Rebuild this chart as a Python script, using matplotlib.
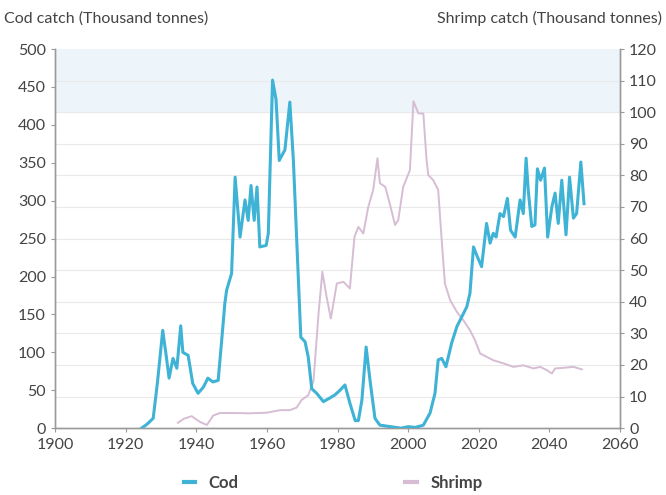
import numpy as np
import matplotlib
matplotlib.use('Agg')
from matplotlib import pyplot as plt

# values
cod_years = [1924.5, 1926, 1927.8, 1929, 1930.5, 1931.5, 1932.3, 1933.4, 1934.5, 1935.6,
             1936.2, 1937.7, 1939, 1940.5, 1942, 1943.3, 1944.7, 1946.2, 1947.2, 1948.1,
             1948.6, 1950, 1951, 1952.4, 1953.8, 1954.7, 1955.5, 1956.4, 1957.2, 1958,
             1959.8, 1960.4, 1961.6, 1962.6, 1963.5, 1965.1, 1966.5, 1967.5, 1969.6, 1970.8,
             1971.7, 1972.7, 1974.1, 1976, 1977.9, 1979.3, 1980.7, 1982.1, 1983.5, 1985,
             1985.9, 1986.9, 1988.1, 1989.2, 1990.6, 1992, 1995, 1998, 2000, 2002,
             2004.3, 2006.2, 2007.6, 2008.5, 2009.5, 2010.7, 2012.3, 2013.8, 2015.2, 2016.6,
             2017.5, 2018.5, 2019.6, 2020.8, 2022.2, 2023.2, 2024.1, 2024.9, 2026, 2027,
             2028.1, 2029, 2030.3, 2031.7, 2032.6, 2033.4, 2034, 2035, 2035.9, 2036.6,
             2037.5, 2038.6, 2039.5, 2040.7, 2041.6, 2042.5, 2043.5, 2044.7, 2045.7, 2046.8,
             2047.7, 2048.9, 2049.8]
cod_catch = [0, 5, 13, 60, 129, 95, 66, 92, 79, 135,
             100, 96, 59, 46, 54, 66, 61, 63, 116, 165,
             182, 204, 331, 252, 301, 274, 320, 274, 318, 239,
             241, 257, 459, 433, 353, 367, 430, 353, 120, 114,
             94, 52, 46, 35, 40, 44, 50, 57, 33, 10,
             10, 37, 107, 63, 13, 4, 2, 0, 2, 1,
             4, 20, 46, 90, 92, 81, 112, 134, 147, 160,
             178, 239, 226, 213, 270, 244, 257, 252, 283, 279,
             303, 261, 252, 301, 283, 356, 314, 266, 268, 342,
             327, 343, 252, 292, 310, 270, 327, 255, 331, 277,
             283, 351, 296]

shrimp_years = [1934.8, 1936.5, 1938.7, 1941, 1943, 1944.8, 1946.7, 1951, 1955, 1960,
                1963.7, 1966.5, 1968.4, 1969.8, 1971.7, 1973.2, 1974.6, 1975.7, 1976.9, 1978.1,
                1979.8, 1981.7, 1983.5, 1984.8, 1985.9, 1987.3, 1988.7, 1990.1, 1991.3, 1992,
                1993.5, 1994.9, 1996.3, 1997.2, 1998.6, 2000.5, 2001.5, 2002.9, 2004.3, 2005.2,
                2005.7, 2007.1, 2008.5, 2009.5, 2010.4, 2011.9, 2013.8, 2015.6, 2017.5, 2018.9,
                2020.4, 2022.2, 2024.1, 2027, 2029.8, 2032.6, 2035.5, 2037.4, 2039.2, 2040.7,
                2041.6, 2044, 2046.8, 2049.2]
shrimp_catch = [1.7, 3, 3.8, 2, 1, 4, 4.8, 4.8, 4.7, 4.9,
                5.7, 5.7, 6.5, 8.9, 10.4, 15, 36, 49.5, 41.6, 34.7,
                45.8, 46.3, 44.2, 60.6, 63.7, 61.6, 70, 75.4, 85.4, 77.5,
                76.4, 70.6, 64.3, 65.9, 76.4, 81.7, 103.5, 99.6, 99.6, 85,
                80.1, 78.5, 75.4, 59.5, 45.8, 40.5, 36.8, 34.2, 31, 27.9,
                23.6, 22.6, 21.5, 20.5, 19.4, 19.9, 18.9, 19.4, 18.4, 17.3,
                18.9, 19.1, 19.4, 18.6]

x_ticks = list(range(1900, 2061, 20))
cod_ticks = list(range(0, 501, 50))
shrimp_ticks = list(range(0, 121, 10))

COD = '#3fb3d5'
SHRIMP = '#d6bdd4'
GREY = '#9a9a9a'
TXT = '#444444'

plt.rcParams['font.family'] = ['Lato', 'DejaVu Sans']

fig = plt.figure(figsize=(6.66, 4.95), dpi=100)
ax = fig.add_axes([0.0826, 0.135, 0.8484, 0.766])
ax2 = ax.twinx()
# shrimp axis behind the cod axis
ax2.set_zorder(ax.get_zorder() - 1)
ax.patch.set_visible(False)

ax2.axhspan(100, 120, color='#edf5fb', lw=0, zorder=0)
for t in shrimp_ticks[1:-1]:
    ax2.axhline(t, color='#e9e9e9', lw=0.8, zorder=0.5)

ax2.plot(shrimp_years, shrimp_catch, color=SHRIMP, lw=1.4, zorder=2)
ax.plot(cod_years, cod_catch, color=COD, lw=2.2, zorder=3)

ax.set_xlim(1900, 2060)
ax.set_ylim(0, 500)
ax2.set_ylim(0, 120)
ax.set_xticks(x_ticks)
ax.set_yticks(cod_ticks)
ax2.set_yticks(shrimp_ticks)

for a in (ax, ax2):
    a.spines['top'].set_visible(False)
    for s in ('left', 'right', 'bottom'):
        a.spines[s].set_color(GREY)
        a.spines[s].set_linewidth(1.0)
    a.tick_params(colors=GREY, labelcolor=TXT, labelsize=11.5, length=3, width=0.8)
ax.tick_params(axis='x', pad=4)

fig.text(0.006, 0.962, 'Cod catch (Thousand tonnes)', fontsize=11.5, color=TXT, va='center')
fig.text(0.994, 0.962, 'Shrimp catch (Thousand tonnes)', fontsize=11.5, color=TXT,
         va='center', ha='right')

h1 = plt.Line2D([], [], color=COD, lw=3)
h2 = plt.Line2D([], [], color=SHRIMP, lw=3)
leg = fig.legend([h1, h2], ['Cod', 'Shrimp'], loc='center', bbox_to_anchor=(0.5, 0.025),
                 ncol=2, frameon=False, handlelength=0.7, columnspacing=10,
                 handletextpad=0.8, prop={'weight': 'bold', 'size': 12})
for t in leg.get_texts():
    t.set_color(TXT)

fig.savefig('out.png', dpi=100)
plt.close('all')
